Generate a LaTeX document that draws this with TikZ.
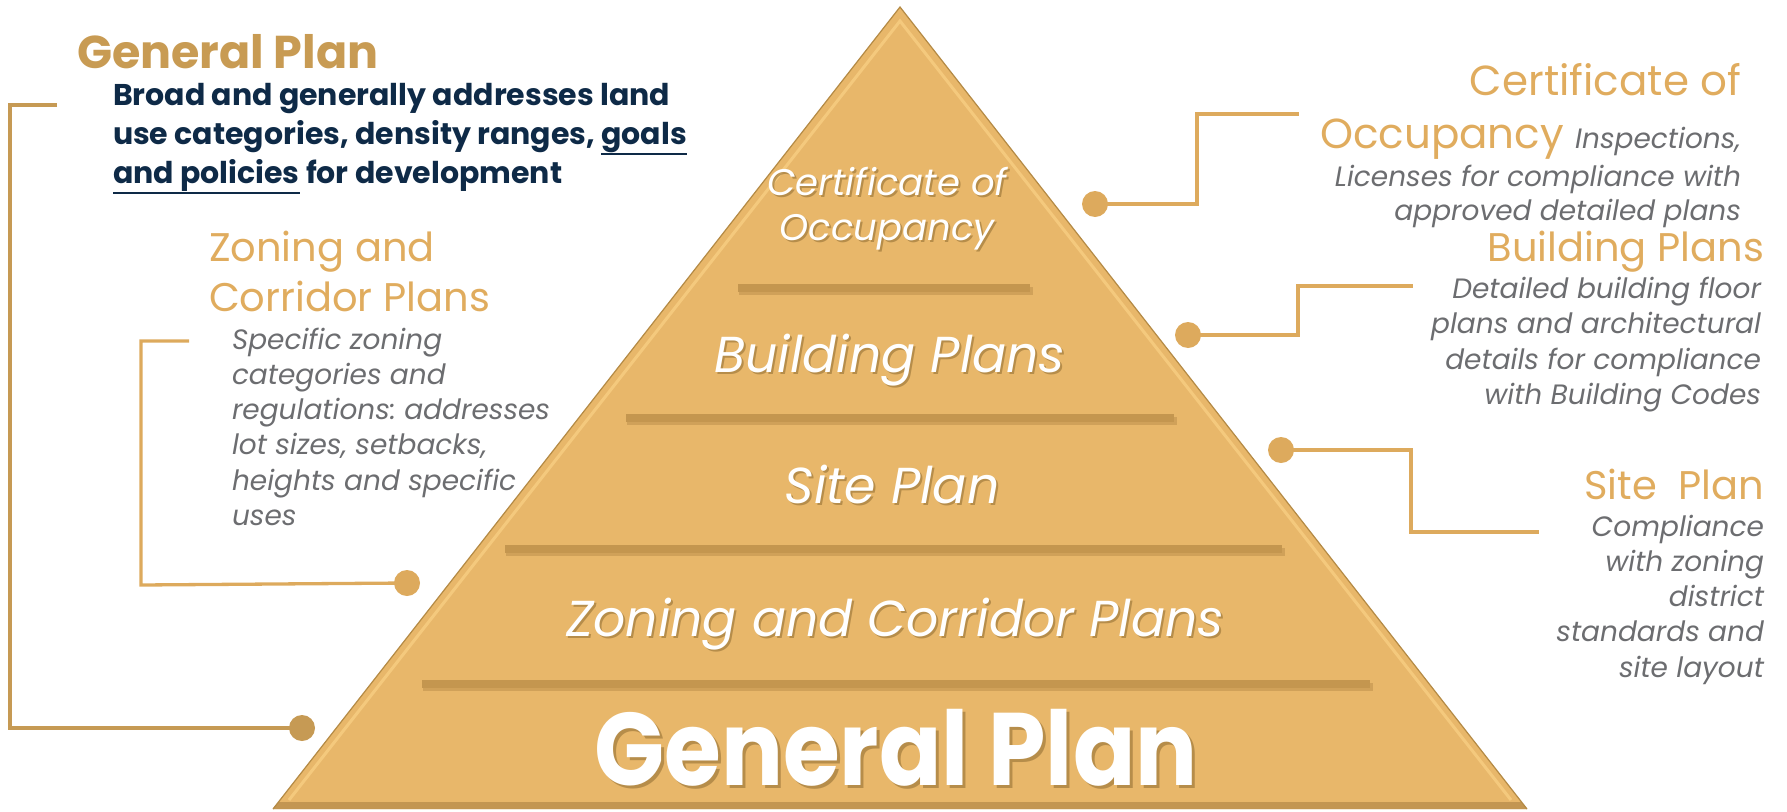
\documentclass[tikz,border=0pt]{standalone}
\usepackage{fontspec}
\setmainfont{Poppins}
\frenchspacing
\definecolor{pyr}{HTML}{E8B76A}
\definecolor{pyrhl}{HTML}{F6CB80}
\definecolor{pyredge}{HTML}{B48A45}
\definecolor{pyrbot}{HTML}{C39652}
\definecolor{divc}{HTML}{C4964F}
\definecolor{divsh}{HTML}{A47A3C}
\definecolor{goldt}{HTML}{C89B53}
\definecolor{goldl}{HTML}{E0AC5E}
\definecolor{linec}{HTML}{DDAA5D}
\definecolor{lined}{HTML}{C69A54}
\definecolor{grayt}{HTML}{6C6D70}
\definecolor{navy}{HTML}{0E2A47}
\definecolor{shc}{HTML}{7A5A25}
\newcommand\fs[2]{\fontsize{#1}{#2}\selectfont}
\newcommand\myul[1]{\leavevmode\setbox0=\hbox{#1}\rlap{\rule[\dimexpr-\dp0-3pt\relax]{\wd0}{2.4pt}}\box0\relax}
\begin{document}
\begin{tikzpicture}[x=1pt,y=-1pt,
  conn/.style={draw=linec, line width=3.3pt},
  conndark/.style={draw=lined, line width=3.3pt},
  dot/.style={circle, fill=linec, minimum size=26pt, inner sep=0pt},
  dotdark/.style={circle, fill=lined, minimum size=26pt, inner sep=0pt},
  lbl/.style={inner sep=0pt, outer sep=0pt},
  goldlbl/.style={lbl, text=goldl, font=\fs{40}{48}},
  gdesc/.style={lbl, text=grayt, font=\itshape\fs{28}{35}},
  navyt/.style={lbl, text=navy, font=\bfseries\fs{30}{39}},
  pyrt/.style={lbl, text=white, font=\itshape\fs{50.5}{58}},
  pyrs/.style={lbl, text=shc, text opacity=0.45, font=\itshape\fs{50.5}{58}},
]
\useasboundingbox (0,0) rectangle (1787,811);
% pyramid
\coordinate (apex) at (900,7);
\coordinate (bl) at (273,809);
\coordinate (br) at (1527,809);
\fill[pyr] (apex) -- (br) -- (bl) -- cycle;
\fill[pyrbot] (bl) -- (br) -- (1521.5,802) -- (278.5,802) -- cycle;
\draw[pyrhl, line width=3pt, opacity=0.9] (289,800) -- (900,21) -- (1511,800);
\draw[pyredge, line width=1.2pt] (bl) -- (apex) -- (br);
% dividers
\foreach \y/\a/\b in {288/738/1030, 418/626/1174, 549/505/1282, 684/422/1370} {
  \fill[divsh, opacity=0.35] (\a+1,\y-1) rectangle (\b+3,\y+7);
  \fill[divc] (\a,\y-4) rectangle (\b,\y+4);
}
% pyramid labels
\node[pyrs, font=\itshape\fs{37}{45}, anchor=base] (cos1) at (889,197) {Certificate of};
\node[pyrt, font=\itshape\fs{37}{45}, anchor=base] (co1) at (887,195) {Certificate of};
\node[pyrs, font=\itshape\fs{37}{45}, anchor=base] (cos2) at (889,242) {Occupancy};
\node[pyrt, font=\itshape\fs{37}{45}, anchor=base] (co2) at (887,240) {Occupancy};
\node[pyrs, anchor=base] (bps) at (892,374) {Building Plans};
\node[pyrt, anchor=base] (bpl) at (890,372) {Building Plans};
\node[pyrs, anchor=base] (sps) at (894,505) {Site Plan};
\node[pyrt, anchor=base] (spl) at (892,503) {Site Plan};
\node[pyrs, anchor=base] (zcs) at (897,638) {Zoning and Corridor Plans};
\node[pyrt, anchor=base] (zcl) at (895,636) {Zoning and Corridor Plans};
\node[pyrs, font=\bfseries\fs{92}{100}, anchor=base] (gps) at (899,788) {\scalebox{1}[1.12]{General Plan}};
\node[pyrt, font=\bfseries\fs{92}{100}, anchor=base] (gpl) at (896,785) {\scalebox{1}[1.12]{General Plan}};
% left: General Plan
\node[lbl, text=goldt, font=\bfseries\fs{46}{50}, anchor=base west] (gpt) at (77,68) {General Plan};
\node[navyt, anchor=base west] (n1) at (113,105) {Broad and generally addresses land};
\node[navyt, anchor=base west] (n2) at (113,144) {use categories, density ranges, \myul{goals}};
\node[navyt, anchor=base west] (n3) at (113,183) {\myul{and policies} for development};
% left: Zoning
\node[goldlbl, anchor=base west] (z1) at (209,261) {Zoning and};
\node[goldlbl, anchor=base west] (z2) at (209,311) {Corridor Plans};
\foreach \t [count=\i] in {Specific zoning, categories and, {regulations: addresses}, {lot sizes, setbacks,}, heights and specific, uses}
  \node[gdesc, anchor=base west] (zd\i) at (232,{349+35.3*(\i-1)}) {\t};
% right: Certificate of Occupancy
\node[goldlbl, font=\fs{42}{48}, anchor=base east] (c1) at (1741,95) {Certificate of};
\node[lbl, anchor=base east] (c2) at (1741,148) {\color{goldl}\fs{42}{48}Occupancy\ \color{grayt}\itshape\fs{28}{35}Inspections,};
\node[gdesc, anchor=base east] (c3) at (1741,186) {Licenses for compliance with};
\node[gdesc, anchor=base east] (c4) at (1741,220) {approved detailed plans};
% right: Building Plans
\node[goldlbl, anchor=base east] (b0) at (1764,261) {Building Plans};
\foreach \t [count=\i] in {Detailed building floor, plans and architectural, details for compliance, with Building Codes}
  \node[gdesc, anchor=base east] (bd\i) at (1761,{298+35.5*(\i-1)}) {\t};
% right: Site Plan
\node[goldlbl, anchor=base east] (s0) at (1764,499) {Site\ \ Plan};
\foreach \t [count=\i] in {Compliance, with zoning, district, standards and, site layout}
  \node[gdesc, anchor=base east] (sd\i) at (1764,{536+35.3*(\i-1)}) {\t};
% connectors
\node[dotdark] (gpdot) at (302,728) {};
\coordinate (gpA) at (57,105);
\coordinate (gpB) at (10,105);
\coordinate (gpC) at (10,728);
\draw[conndark] (gpA) -- (gpB) -- (gpC) -- (gpdot.center);
\node[dot] (zdot) at (407,583) {};
\coordinate (zA) at (189,341);
\coordinate (zB) at (141,341);
\coordinate (zC) at (141,585);
\draw[conn] (zA) -- (zB) -- (zC) -- (zdot.center);
\node[dot] (cdot) at (1095,204) {};
\coordinate (cA) at (1197,204);
\coordinate (cB) at (1197,114);
\coordinate (cC) at (1299,114);
\draw[conn] (cdot.center) -- (cA) -- (cB) -- (cC);
\node[dot] (bdot) at (1188,335) {};
\coordinate (bA) at (1298,335);
\coordinate (bB) at (1298,286);
\coordinate (bC) at (1413,286);
\draw[conn] (bdot.center) -- (bA) -- (bB) -- (bC);
\node[dot] (sdot) at (1281,450) {};
\coordinate (sA) at (1411,450);
\coordinate (sB) at (1411,532);
\coordinate (sC) at (1539,532);
\draw[conn] (sdot.center) -- (sA) -- (sB) -- (sC);
\end{tikzpicture}
\end{document}
